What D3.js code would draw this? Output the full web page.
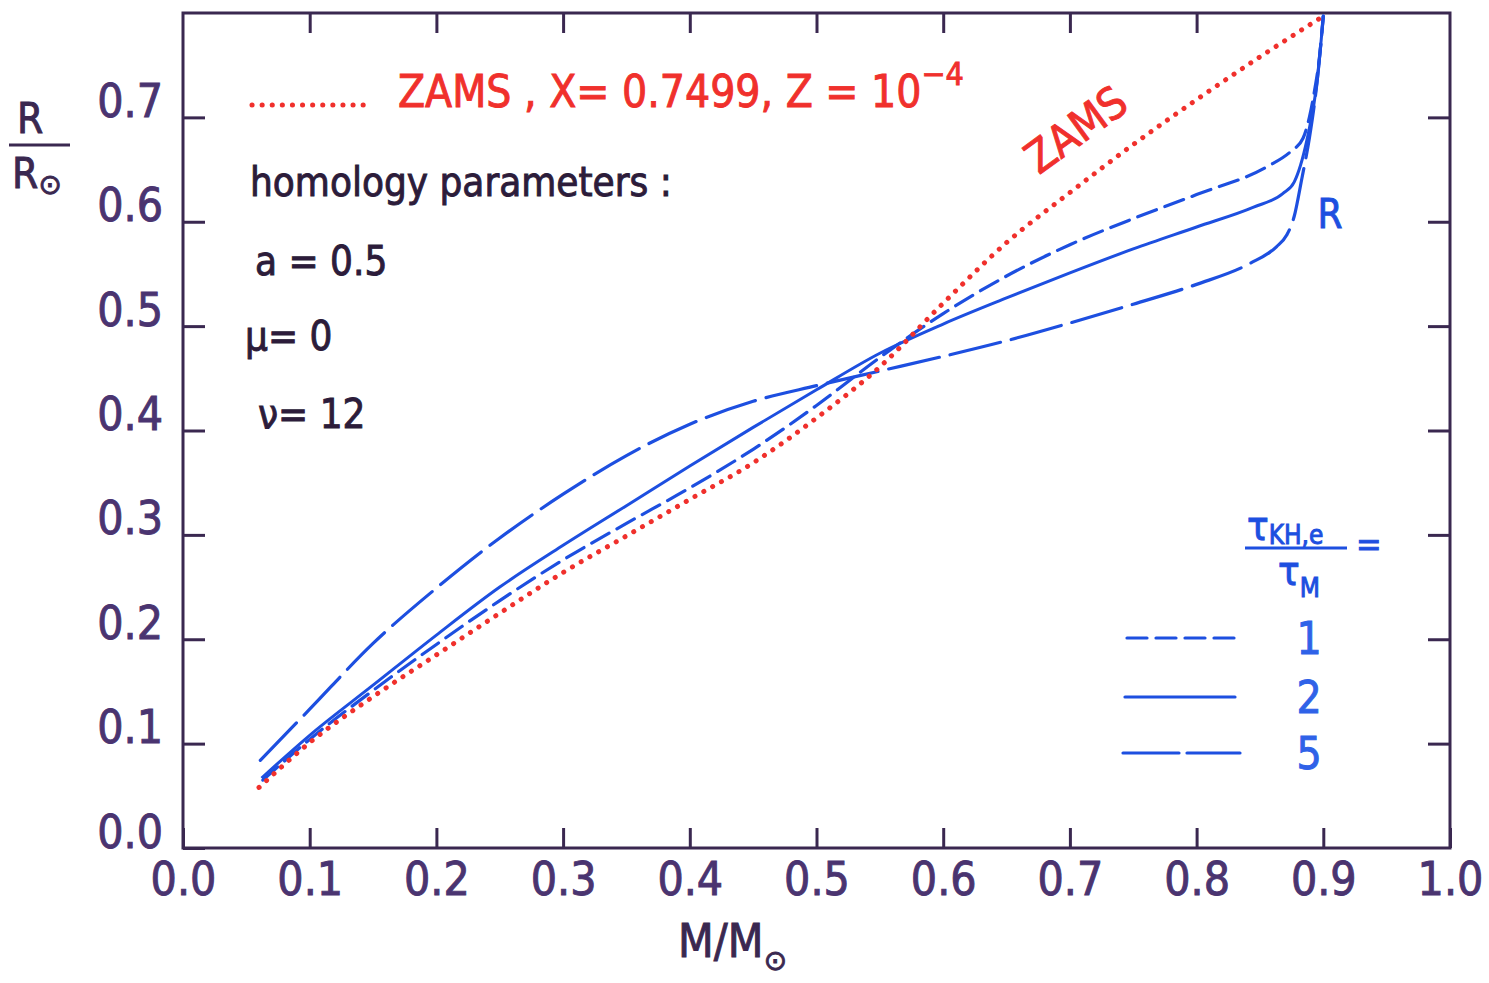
<!DOCTYPE html>
<html>
<head>
<meta charset="utf-8">
<script src="https://cdn.jsdelivr.net/npm/d3@7"></script>
<style>
  body { margin: 0; background: #fff; }
  svg text { font-family: "Liberation Sans Narrow", "DejaVu Sans Condensed", "Liberation Sans", sans-serif; }
</style>
</head>
<body>
<svg id="chart" width="1489" height="983"></svg>
<script>
// tick values
var xTicks = [0.0, 0.1, 0.2, 0.3, 0.4, 0.5, 0.6, 0.7, 0.8, 0.9, 1.0];
var yTicks = [0.0, 0.1, 0.2, 0.3, 0.4, 0.5, 0.6, 0.7];

// ZAMS, X = 0.7499, Z = 1e-4 (red dotted)
var zamsMass   = [0.06, 0.1, 0.15, 0.2, 0.25, 0.3, 0.35, 0.4, 0.45, 0.5, 0.55, 0.6, 0.65, 0.7, 0.75, 0.8, 0.85, 0.9];
var zamsRadius = [0.058, 0.101, 0.145, 0.185, 0.225, 0.264, 0.299, 0.334, 0.369, 0.412, 0.461, 0.522, 0.580, 0.628, 0.674, 0.717, 0.758, 0.797];

// tau_KH,e / tau_M = 1 (short dashes)
var tau1Mass   = [0.063, 0.1, 0.15, 0.2, 0.25, 0.3, 0.35, 0.4, 0.45, 0.5, 0.55, 0.6, 0.65, 0.7, 0.75, 0.8, 0.856, 0.874, 0.884, 0.889, 0.893, 0.897, 0.9];
var tau1Radius = [0.065, 0.104, 0.151, 0.195, 0.237, 0.276, 0.311, 0.345, 0.382, 0.424, 0.470, 0.512, 0.548, 0.578, 0.603, 0.626, 0.653, 0.667, 0.680, 0.700, 0.725, 0.758, 0.797];

// = 2 (solid)
var tau2Mass   = [0.062, 0.1, 0.15, 0.2, 0.25, 0.3, 0.35, 0.4, 0.45, 0.5, 0.55, 0.6, 0.65, 0.7, 0.75, 0.8, 0.845, 0.868, 0.877, 0.887, 0.895, 0.9];
var tau2Radius = [0.067, 0.108, 0.156, 0.204, 0.250, 0.290, 0.328, 0.366, 0.403, 0.439, 0.474, 0.502, 0.527, 0.551, 0.574, 0.595, 0.614, 0.627, 0.638, 0.678, 0.733, 0.797];

// = 5 (long dashes)
var tau5Mass   = [0.061, 0.1, 0.15, 0.2, 0.25, 0.3, 0.35, 0.4, 0.45, 0.5, 0.55, 0.6, 0.65, 0.7, 0.75, 0.8, 0.842, 0.863, 0.871, 0.877, 0.883, 0.889, 0.895, 0.9];
var tau5Radius = [0.084, 0.133, 0.196, 0.249, 0.297, 0.339, 0.376, 0.406, 0.428, 0.443, 0.457, 0.471, 0.486, 0.503, 0.521, 0.540, 0.560, 0.576, 0.587, 0.605, 0.641, 0.680, 0.733, 0.797];

var legendLabels = ["1", "2", "5"];

var BLUE = "#1d4fe0", RED = "#f0302c", INK = "#3a2850", LABEL = "#4a3470", DARK = "#2c1c3a";
var DASH1 = "20,9", DASH5 = "52,11", DOTS = "0.1,10";

var svg = d3.select("#chart");

var x = d3.scaleLinear().domain([0, 1]).range([183, 1450]);
var y = d3.scaleLinear().domain([0, 0.8]).range([848, 13]);

var zip = function(ms, rs) { return ms.map(function(m, i) { return { m: m, r: rs[i] }; }); };

var lineFn = d3.line()
  .x(function(d) { return x(d.m); })
  .y(function(d) { return y(d.r); })
  .curve(d3.curveMonotoneX);

// give the lettering a slightly heavier, pen-like stroke
var ink = function(sel, color) {
  return sel.attr("fill", color).attr("stroke", color).attr("stroke-width", 0.9);
};

// frame
svg.append("rect")
  .attr("x", x(0)).attr("y", y(0.8))
  .attr("width", x(1) - x(0)).attr("height", y(0) - y(0.8))
  .attr("fill", "none").attr("stroke", INK).attr("stroke-width", 3);

// axes with inward ticks
var bottom = svg.append("g")
  .attr("transform", "translate(0," + y(0) + ")")
  .call(d3.axisBottom(x).tickValues(xTicks).tickFormat(d3.format(".1f"))
    .tickSizeInner(-20).tickSizeOuter(0).tickPadding(14));
ink(bottom.selectAll("text"), LABEL).style("font-size", "46px");

var left = svg.append("g")
  .attr("transform", "translate(" + x(0) + ",0)")
  .call(d3.axisLeft(y).tickValues(yTicks).tickFormat(d3.format(".1f"))
    .tickSizeInner(-22).tickSizeOuter(0).tickPadding(20));
ink(left.selectAll("text"), LABEL).style("font-size", "46px").attr("dy", "-0.02em");

svg.append("g")
  .attr("transform", "translate(0," + y(0.8) + ")")
  .call(d3.axisTop(x).tickValues(xTicks.slice(1, 9)).tickFormat("")
    .tickSizeInner(-20).tickSizeOuter(0));

svg.append("g")
  .attr("transform", "translate(" + x(1) + ",0)")
  .call(d3.axisRight(y).tickValues(yTicks.slice(1)).tickFormat("")
    .tickSizeInner(-22).tickSizeOuter(0));

svg.selectAll(".domain").remove();
svg.selectAll(".tick line").attr("stroke", INK).attr("stroke-width", 3);

// curves
svg.append("path").attr("d", lineFn(zip(tau5Mass, tau5Radius)))
  .attr("fill", "none").attr("stroke", BLUE).attr("stroke-width", 3.2)
  .attr("stroke-dasharray", DASH5).attr("stroke-linecap", "round");
svg.append("path").attr("d", lineFn(zip(tau1Mass, tau1Radius)))
  .attr("fill", "none").attr("stroke", BLUE).attr("stroke-width", 3.2)
  .attr("stroke-dasharray", DASH1).attr("stroke-linecap", "round");
svg.append("path").attr("d", lineFn(zip(tau2Mass, tau2Radius)))
  .attr("fill", "none").attr("stroke", BLUE).attr("stroke-width", 3);
svg.append("path").attr("d", lineFn(zip(zamsMass, zamsRadius)))
  .attr("fill", "none").attr("stroke", RED).attr("stroke-width", 5)
  .attr("stroke-dasharray", DOTS).attr("stroke-linecap", "round");

// y axis label R / R_sun
ink(svg.append("text").attr("x", 30).attr("y", 133).attr("text-anchor", "middle"), INK)
  .style("font-size", "42px").text("R");
svg.append("line").attr("x1", 9).attr("x2", 70).attr("y1", 145).attr("y2", 145)
  .attr("stroke", INK).attr("stroke-width", 3);
var rsun = ink(svg.append("text").attr("x", 12).attr("y", 188), INK).style("font-size", "42px");
rsun.append("tspan").text("R");
rsun.append("tspan").attr("dy", 6).style("font-family", "DejaVu Sans").style("font-size", "28px").text("⊙");

// x axis label M / M_sun
var msun = ink(svg.append("text").attr("x", 678).attr("y", 957), INK).style("font-size", "46px");
msun.append("tspan").text("M/M");
msun.append("tspan").attr("dy", 13).style("font-family", "DejaVu Sans").style("font-size", "28px").text("⊙");

// ZAMS legend
svg.append("line").attr("x1", 252).attr("x2", 368).attr("y1", 105).attr("y2", 105)
  .attr("stroke", RED).attr("stroke-width", 5).attr("stroke-dasharray", DOTS).attr("stroke-linecap", "round");
var zt = ink(svg.append("text").attr("x", 398).attr("y", 107), RED).style("font-size", "44px");
zt.append("tspan").text("ZAMS , X= 0.7499,  Z = 10");
zt.append("tspan").attr("dy", -22).style("font-size", "32px").text("−4");

// ZAMS label on the curve
ink(svg.append("text").attr("transform", "translate(1085,142) rotate(-36)")
  .attr("text-anchor", "middle"), RED).style("font-size", "44px").text("ZAMS");

ink(svg.append("text").attr("x", 1330).attr("y", 228).attr("text-anchor", "middle"), BLUE)
  .style("font-size", "40px").text("R");

// homology parameters
ink(svg.append("text").attr("x", 250).attr("y", 196), DARK).style("font-size", "40px")
  .text("homology parameters :");
ink(svg.append("text").attr("x", 255).attr("y", 275), DARK).style("font-size", "40px").text("a = 0.5");
ink(svg.append("text").attr("x", 245).attr("y", 350), DARK).style("font-size", "40px")
  .style("font-family", "DejaVu Sans Condensed, Liberation Sans Narrow, sans-serif").text("μ= 0");
ink(svg.append("text").attr("x", 258).attr("y", 428), DARK).style("font-size", "40px")
  .style("font-family", "DejaVu Sans Condensed, Liberation Sans Narrow, sans-serif").text("ν= 12");

// tau ratio legend
var num = ink(svg.append("text").attr("x", 1247).attr("y", 540), BLUE).style("font-size", "40px");
num.append("tspan").text("τ");
num.append("tspan").attr("dy", 4).style("font-size", "26px").text("KH,e");
svg.append("line").attr("x1", 1245).attr("x2", 1347).attr("y1", 548).attr("y2", 548)
  .attr("stroke", BLUE).attr("stroke-width", 3);
ink(svg.append("text").attr("x", 1356).attr("y", 556), BLUE).style("font-size", "34px").text("=");
var den = ink(svg.append("text").attr("x", 1278).attr("y", 585), BLUE).style("font-size", "40px");
den.append("tspan").text("τ");
den.append("tspan").attr("dy", 12).style("font-size", "26px").text("M");

var legendRows = [
  { y: 638, dash: DASH1, x1: 1127, x2: 1237 },
  { y: 697, dash: null, x1: 1125, x2: 1235 },
  { y: 753, dash: "56,8", x1: 1123, x2: 1240 }
];
legendRows.forEach(function(row, i) {
  svg.append("line").attr("x1", row.x1).attr("x2", row.x2).attr("y1", row.y).attr("y2", row.y)
    .attr("stroke", BLUE).attr("stroke-width", 3.2)
    .attr("stroke-dasharray", row.dash).attr("stroke-linecap", "round");
  ink(svg.append("text").attr("x", 1309).attr("y", row.y + 16).attr("text-anchor", "middle"), "#2f62e8")
    .style("font-size", "44px").text(legendLabels[i]);
});
</script>
</body>
</html>
